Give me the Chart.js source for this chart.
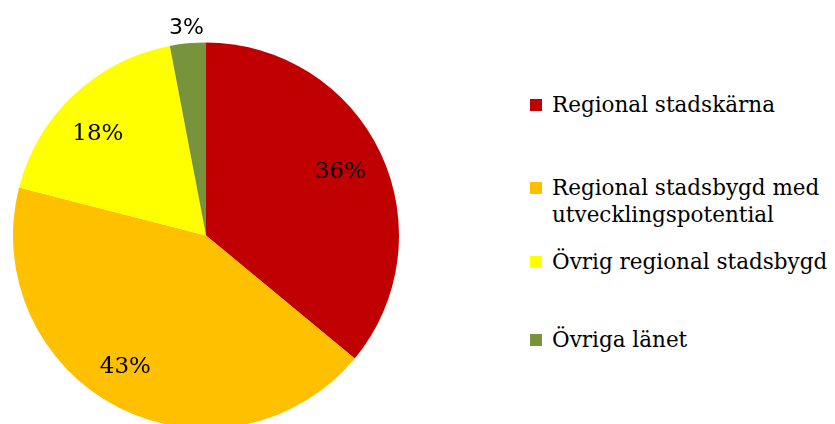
<!DOCTYPE html>
<html lang="sv">
<head>
<meta charset="utf-8">
<script src="https://cdn.jsdelivr.net/npm/chart.js@4.4.1/dist/chart.umd.min.js"></script>
<style>
    html, body { margin: 0; padding: 0; background: #fff; }
    #wrap { position: relative; width: 835px; height: 424px; overflow: hidden; }
    #pieBox { position: absolute; left: 0; top: 0; width: 414px; height: 440px; }
    #legend { position: absolute; left: 0; top: 0; font-family: "DejaVu Serif", serif; font-size: 21.5px; color: #000; }
    .item { position: absolute; left: 530px; white-space: nowrap; line-height: 27px; }
    .item span.box { position: absolute; left: 0; top: 8px; width: 12px; height: 12px; }
    .item span.txt { position: absolute; left: 22px; top: 0; }
</style>
</head>
<body>
<div id="wrap">
    <div id="pieBox"><canvas id="andelChart"></canvas></div>
    <div id="legend"></div>
</div>
<script>
// Data
const kategorier = ['Regional stadskärna', 'Regional stadsbygd med utvecklingspotential', 'Övrig regional stadsbygd', 'Övriga länet'];
const legendRader = [['Regional stadskärna'], ['Regional stadsbygd med', 'utvecklingspotential'], ['Övrig regional stadsbygd'], ['Övriga länet']];
const andelar = [36, 43, 18, 3];
const etiketter = ['36%', '43%', '18%', '3%'];
const farger = ['#C00000', '#FFC000', '#FFFF00', '#77933C'];

// Legend i HTML
const legendTopp = [91, 174, 248, 326];
const legendDiv = document.getElementById('legend');
legendRader.forEach((rader, i) => {
    const div = document.createElement('div');
    div.className = 'item';
    div.style.top = legendTopp[i] + 'px';
    const box = document.createElement('span');
    box.className = 'box';
    box.style.background = farger[i];
    const txt = document.createElement('span');
    txt.className = 'txt';
    txt.innerHTML = rader.join('<br>');
    div.appendChild(box);
    div.appendChild(txt);
    legendDiv.appendChild(div);
});

// Etiketter på tårtbitarna
const etikettPlugin = {
    id: 'etiketter',
    afterDatasetsDraw(chart, args, opts) {
        const ctx = chart.ctx;
        const meta = chart.getDatasetMeta(0);
        meta.data.forEach((arc, i) => {
            const p = arc.getProps(['x', 'y', 'startAngle', 'endAngle', 'outerRadius'], true);
            const mitt = (p.startAngle + p.endAngle) / 2 + opts.vinkel[i] * Math.PI / 180;
            const r = p.outerRadius * opts.radie[i] + (opts.utanfor[i] || 0);
            ctx.save();
            ctx.font = opts.typsnitt[i];
            ctx.fillStyle = '#000';
            ctx.textAlign = 'center';
            ctx.textBaseline = 'middle';
            ctx.fillText(etiketter[i], p.x + Math.cos(mitt) * r, p.y + Math.sin(mitt) * r);
            ctx.restore();
        });
    }
};

document.addEventListener('DOMContentLoaded', () => {
    const ctx = document.getElementById('andelChart').getContext('2d');
    new Chart(ctx, {
        type: 'pie',
        data: {
            labels: kategorier,
            datasets: [{
                data: andelar,
                backgroundColor: farger,
                borderWidth: 0
            }]
        },
        options: {
            responsive: true,
            maintainAspectRatio: false,
            animation: false,
            layout: { padding: { left: 13, right: 15, top: 42, bottom: 11 } },
            plugins: {
                legend: { display: false },
                tooltip: { enabled: false },
                etiketter: {
                    radie: [0.77, 0.8, 0.77, 1],
                    utanfor: [0, 0, 0, 15],
                    vinkel: [0, 4.5, -3.5, 0],
                    typsnitt: ['23px "DejaVu Serif"', '23px "DejaVu Serif"', '23px "DejaVu Serif"', '22px "DejaVu Sans"']
                }
            }
        },
        plugins: [etikettPlugin]
    });
});
</script>
</body>
</html>
